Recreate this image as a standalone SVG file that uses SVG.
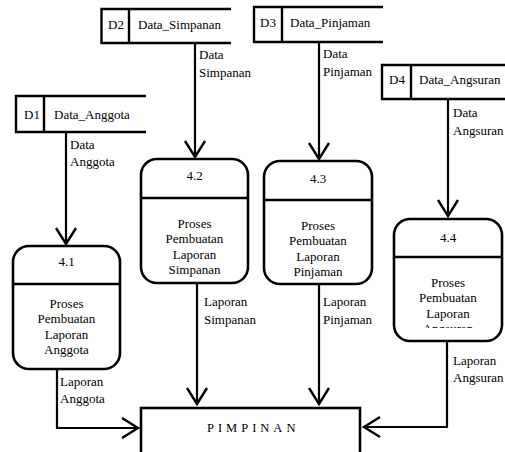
<svg xmlns="http://www.w3.org/2000/svg" width="505" height="452" viewBox="0 0 505 452" font-family="'Liberation Serif', 'Times New Roman', 'DejaVu Serif', serif">
  <style>
    text { font-family: "Liberation Serif", "Times New Roman", "DejaVu Serif", serif; font-size: 13px; fill: #000; }
    .c { text-anchor: middle; }
    .box { fill: #fff; stroke: #000; stroke-width: 2.6; }
    .ln { fill: none; stroke: #000; stroke-width: 2.4; }
    .flow { fill: none; stroke: #000; stroke-width: 2.2; }
  </style>
  <defs>
    <marker id="arr" viewBox="0 0 20 24" refX="17" refY="12" markerWidth="20" markerHeight="24" markerUnits="userSpaceOnUse" orient="auto">
      <path d="M1,2 L17,12 L1,22" fill="none" stroke="#000" stroke-width="2.4"/>
    </marker>
    <clipPath id="clip44">
      <rect x="394" y="258" width="110" height="70"/>
    </clipPath>
  </defs>

  <rect width="505" height="452" fill="#fff"/>

  <!-- data stores -->
  <g id="D2">
    <path class="ln" d="M231,9 H101.5 V43 H231 M129,9 V43"/>
    <text x="108" y="28.5">D2</text>
    <text x="138" y="28.5">Data_Simpanan</text>
  </g>
  <g id="D3">
    <path class="ln" d="M383,7 H254 V42 H383 M282,7 V42"/>
    <text x="260" y="26.5">D3</text>
    <text x="290" y="26.5">Data_Pinjaman</text>
  </g>
  <g id="D1">
    <path class="ln" d="M146,96 H16 V132 H146 M44,96 V132"/>
    <text x="24" y="118.5">D1</text>
    <text x="54" y="118.5">Data_Anggota</text>
  </g>
  <g id="D4">
    <path class="ln" d="M505,65 H382 V99 H505 M411,65 V99"/>
    <text x="389" y="83.5">D4</text>
    <text x="419" y="83.5">Data_Angsuran</text>
  </g>

  <!-- processes -->
  <g id="P41">
    <rect class="box" x="13" y="246" width="107" height="123" rx="16"/>
    <line class="ln" x1="13" y1="284" x2="120" y2="284"/>
    <text class="c" x="66.5" y="265.5">4.1</text>
    <text class="c" x="66.5" y="307.5">Proses</text>
    <text class="c" x="66.5" y="323">Pembuatan</text>
    <text class="c" x="66.5" y="338.5">Laporan</text>
    <text class="c" x="66.5" y="354">Anggota</text>
  </g>
  <g id="P42">
    <rect class="box" x="141" y="159" width="107" height="124" rx="16"/>
    <line class="ln" x1="141" y1="198" x2="248" y2="198"/>
    <text class="c" x="194.5" y="179.5">4.2</text>
    <text class="c" x="194.5" y="227.5">Proses</text>
    <text class="c" x="194.5" y="243">Pembuatan</text>
    <text class="c" x="194.5" y="258.5">Laporan</text>
    <text class="c" x="194.5" y="274">Simpanan</text>
  </g>
  <g id="P43">
    <rect class="box" x="264" y="161" width="108" height="123" rx="16"/>
    <line class="ln" x1="264" y1="200" x2="372" y2="200"/>
    <text class="c" x="318" y="182.5">4.3</text>
    <text class="c" x="318" y="229.5">Proses</text>
    <text class="c" x="318" y="245">Pembuatan</text>
    <text class="c" x="318" y="260.5">Laporan</text>
    <text class="c" x="318" y="276">Pinjaman</text>
  </g>
  <g id="P44">
    <rect class="box" x="394" y="219" width="108" height="122" rx="16"/>
    <line class="ln" x1="394" y1="257" x2="502" y2="257"/>
    <text class="c" x="448" y="241.5">4.4</text>
    <g clip-path="url(#clip44)">
      <text class="c" x="448" y="286.5">Proses</text>
      <text class="c" x="448" y="302">Pembuatan</text>
      <text class="c" x="448" y="317.5">Laporan</text>
      <text class="c" x="448" y="333">Angsuran</text>
    </g>
  </g>

  <!-- external entity -->
  <g id="PIMPINAN">
    <rect class="box" x="141" y="408" width="219" height="60"/>
    <text x="207" y="432" style="font-size:12.5px; letter-spacing:4px">PIMPINAN</text>
  </g>

  <!-- data flows -->
  <g id="flows">
    <path class="flow" d="M195,43 V157" marker-end="url(#arr)"/>
    <path class="flow" d="M319,42 V159" marker-end="url(#arr)"/>
    <path class="flow" d="M66,132 V244" marker-end="url(#arr)"/>
    <path class="flow" d="M448,99 V216" marker-end="url(#arr)"/>
    <path class="flow" d="M57,369 V428 H138" marker-end="url(#arr)"/>
    <path class="flow" d="M197,283 V404" marker-end="url(#arr)"/>
    <path class="flow" d="M319,284 V404" marker-end="url(#arr)"/>
    <path class="flow" d="M447,341 V427 H364" marker-end="url(#arr)"/>

    <text x="199" y="59">Data</text>
    <text x="199" y="77">Simpanan</text>
    <text x="323" y="58">Data</text>
    <text x="323" y="76">Pinjaman</text>
    <text x="70" y="148.5">Data</text>
    <text x="70" y="165.5">Anggota</text>
    <text x="453" y="116.5">Data</text>
    <text x="453" y="135">Angsuran</text>

    <text x="204" y="306">Laporan</text>
    <text x="204" y="323.5">Simpanan</text>
    <text x="323" y="306">Laporan</text>
    <text x="323" y="323.5">Pinjaman</text>
    <text x="60" y="385.5">Laporan</text>
    <text x="60" y="402.5">Anggota</text>
    <text x="453" y="364.5">Laporan</text>
    <text x="453" y="381.5">Angsuran</text>
  </g>
</svg>
